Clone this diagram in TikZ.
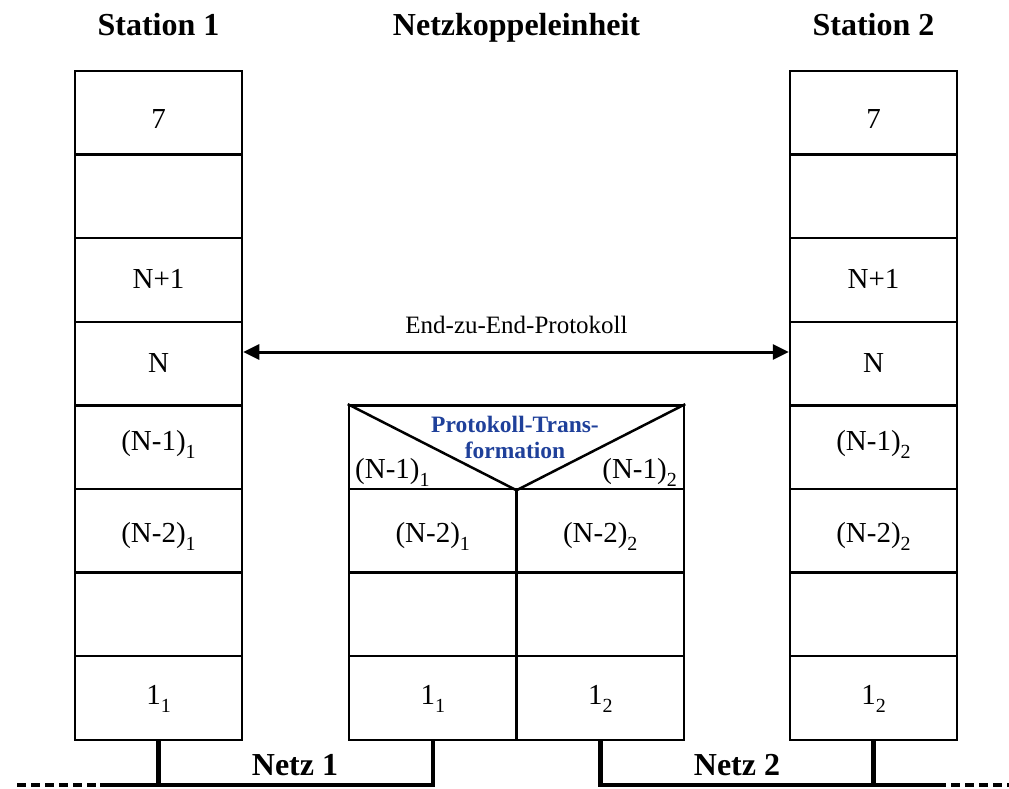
\documentclass[tikz,border=0pt]{standalone}
\usepackage{fontspec}
\setmainfont{Liberation Serif}
\usetikzlibrary{arrows.meta,calc}
\definecolor{transblue}{RGB}{31,64,154}
\newcommand\ix[1]{\raisebox{-8.5pt}{\fontsize{20}{20}\selectfont #1}}
\begin{document}
\begin{tikzpicture}[x=1pt,y=-1pt,
  cell/.style={draw,line width=2.5pt,minimum width=167pt,minimum height=83.6pt,inner sep=0pt},
  halfcell/.style={cell,minimum width=167.5pt},
  lbl/.style={anchor=base,inner sep=0pt,font=\fontsize{29}{32}\selectfont},
  heading/.style={anchor=base,font=\fontsize{32}{36}\selectfont\bfseries,inner sep=0pt},
  netlabel/.style={font=\fontsize{32}{36}\selectfont\bfseries,inner sep=0pt},
  netline/.style={line width=4.5pt,line join=miter},
  netdots/.style={line width=4pt,dash pattern=on 9pt off 5pt},
  e2e/.style={line width=3pt,{Triangle[length=16pt,width=15pt]}-{Triangle[length=16pt,width=15pt]}},
  transtxt/.style={anchor=base,font=\fontsize{23.5}{26}\selectfont\bfseries,text=transblue,inner sep=0pt}]
\useasboundingbox (0,0) rectangle (1009,788);

% headings
\node[heading] (h1) at (158.5,35) {Station 1};
\node[heading] (h2) at (516.5,35) {Netzkoppeleinheit};
\node[heading] (h3) at (873.5,35) {Station 2};

% station 1 layer stack
\node[cell] (L1) at (158.5,112.8) {};
\node[cell] (L2) at (158.5,196.4) {};
\node[cell] (L3) at (158.5,280.0) {};
\node[cell] (L4) at (158.5,363.6) {};
\node[cell] (L5) at (158.5,447.2) {};
\node[cell] (L6) at (158.5,530.8) {};
\node[cell] (L7) at (158.5,614.4) {};
\node[cell] (L8) at (158.5,698.0) {};
\node[lbl] (L1t) at (158.5,128) {7};
\node[lbl] (L3t) at (158.5,288) {N+1};
\node[lbl] (L4t) at (158.5,372) {N};
\node[lbl] (L5t) at (158.5,450) {(N-1)\ix{1}};
\node[lbl] (L6t) at (158.5,542) {(N-2)\ix{1}};
\node[lbl] (L8t) at (158.5,704) {1\ix{1}};

% station 2 layer stack
\node[cell] (R1) at (873.5,112.8) {};
\node[cell] (R2) at (873.5,196.4) {};
\node[cell] (R3) at (873.5,280.0) {};
\node[cell] (R4) at (873.5,363.6) {};
\node[cell] (R5) at (873.5,447.2) {};
\node[cell] (R6) at (873.5,530.8) {};
\node[cell] (R7) at (873.5,614.4) {};
\node[cell] (R8) at (873.5,698.0) {};
\node[lbl] (R1t) at (873.5,128) {7};
\node[lbl] (R3t) at (873.5,288) {N+1};
\node[lbl] (R4t) at (873.5,372) {N};
\node[lbl] (R5t) at (873.5,450) {(N-1)\ix{2}};
\node[lbl] (R6t) at (873.5,542) {(N-2)\ix{2}};
\node[lbl] (R8t) at (873.5,704) {1\ix{2}};

% coupling unit
\node[cell,minimum width=335pt] (MT) at (516.5,447.2) {};
\draw[line width=2.5pt] (MT.north west) -- (MT.south) -- (MT.north east);
\node[lbl,anchor=base west] (mt1) at (355,478) {(N-1)\ix{1}};
\node[lbl,anchor=base east] (mt2) at (677,478) {(N-1)\ix{2}};
\node[transtxt] (tr1) at (515,432) {Protokoll-Trans-};
\node[transtxt] (tr2) at (515,458) {formation};

\node[halfcell] (MA6) at (432.75,530.8) {};
\node[halfcell] (MB6) at (600.25,530.8) {};
\node[halfcell] (MA7) at (432.75,614.4) {};
\node[halfcell] (MB7) at (600.25,614.4) {};
\node[halfcell] (MA8) at (432.75,698.0) {};
\node[halfcell] (MB8) at (600.25,698.0) {};
\node[lbl] (MA6t) at (432.75,542) {(N-2)\ix{1}};
\node[lbl] (MB6t) at (600.25,542) {(N-2)\ix{2}};
\node[lbl] (MA8t) at (432.75,704) {1\ix{1}};
\node[lbl] (MB8t) at (600.25,704) {1\ix{2}};

% end-to-end protocol
\draw[e2e] ([yshift=11.6pt]L4.east) -- ([yshift=11.6pt]R4.west);
\node[anchor=base,font=\fontsize{25}{30}\selectfont,inner sep=0pt] (e2el) at (516.5,333) {End-zu-End-Protokoll};

% networks
\coordinate (n1w) at (100,785);
\coordinate (n1d) at (17,785);
\coordinate (n2e) at (937,785);
\coordinate (n2d) at (1009,785);

\draw[netline] (n1w) -| (MA8.south);
\draw[netline] (L8.south) -- (L8.south |- n1w);
\draw[netdots] (n1d) -- (n1w);
\draw[netline] (MB8.south) |- (n2e);
\draw[netline] (R8.south) -- (R8.south |- n2e);
\draw[netdots] (n2e) -- (n2d);

\node[netlabel] (net1) at (295,765) {Netz 1};
\node[netlabel] (net2) at (737,765) {Netz 2};
\end{tikzpicture}
\end{document}
